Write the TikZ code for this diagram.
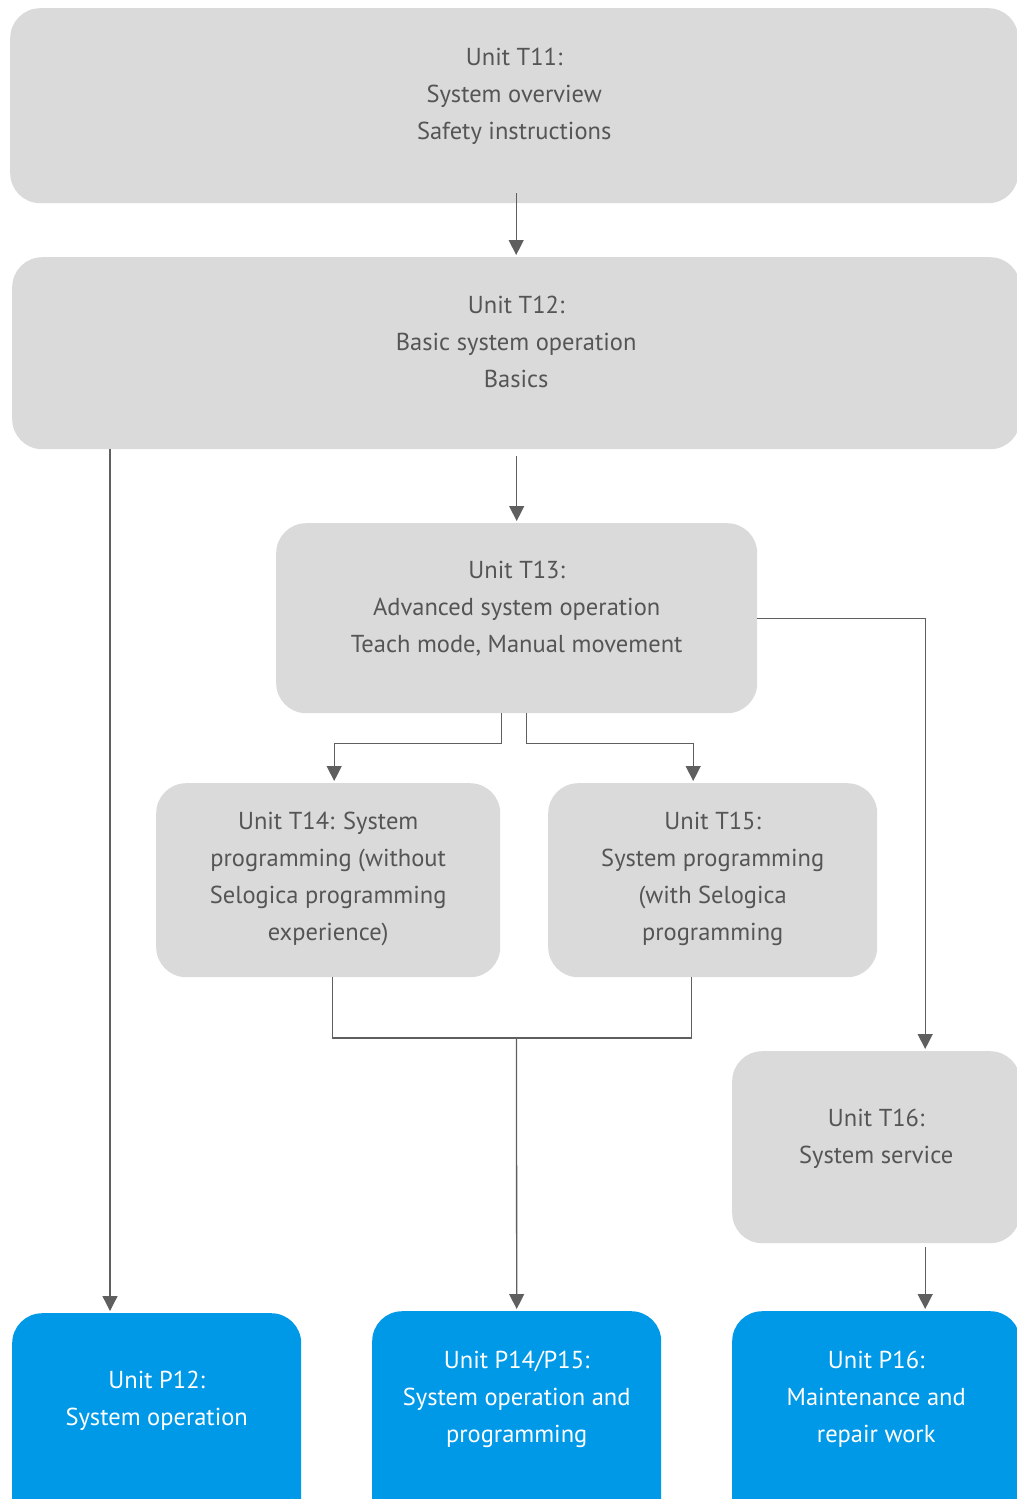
\documentclass[tikz,border=0pt]{standalone}
\usepackage{fontspec}
\setmainfont{PT Sans}
\usetikzlibrary{arrows.meta,positioning}
\definecolor{boxgray}{RGB}{218,218,218}
\definecolor{textgray}{RGB}{85,85,85}
\definecolor{unitblue}{RGB}{0,153,232}
\definecolor{linegray}{RGB}{95,95,95}

\tikzset{
  unitbox/.style={rectangle, rounded corners=30pt, fill=boxgray, draw=none, inner sep=0pt, anchor=north west},
  pracbox/.style={unitbox, fill=unitblue},
  unittext/.style={anchor=base, align=center, text=textgray, font=\fontsize{24.5}{37}\selectfont},
  practext/.style={unittext, text=white},
  wire/.style={draw=linegray, line width=1.3pt},
  flow/.style={wire, -{Triangle[width=15pt,length=15pt]}, shorten >=2pt},
}

\begin{document}
\begin{tikzpicture}[x=1pt, y=-1pt]
        \path[use as bounding box, clip] (0,0) rectangle (1017,1499);

        % Theory units
        \node[unitbox, minimum width=1008pt, minimum height=195pt] (t11) at (10,8) {};
        \node[unitbox, minimum width=1008pt, minimum height=192pt] (t12) at (12,257) {};
        \node[unitbox, minimum width=481pt, minimum height=190pt] (t13) at (276,523) {};
        \node[unitbox, minimum width=344pt, minimum height=194pt] (t14) at (156,783) {};
        \node[unitbox, minimum width=329pt, minimum height=194pt] (t15) at (548,783) {};
        \node[unitbox, minimum width=288pt, minimum height=192pt] (t16) at (732,1051) {};

        % Practice units
        \node[pracbox, minimum width=289pt, minimum height=230pt] (p12) at (12,1313) {};
        \node[pracbox, minimum width=289pt, minimum height=230pt] (p1415) at (372,1311) {};
        \node[pracbox, minimum width=288pt, minimum height=230pt] (p16) at (732,1311) {};

        % Texts (base = last line)
        \node[unittext] (t11txt) at ([yshift=-131pt]t11.north) {Unit T11:\\System overview\\Safety instructions};
        \node[unittext] (t12txt) at ([yshift=-130pt]t12.north) {Unit T12:\\Basic system operation\\Basics};
        \node[unittext] (t13txt) at ([yshift=-129pt]t13.north) {Unit T13:\\Advanced system operation\\Teach mode, Manual movement};
        \node[unittext] (t14txt) at ([yshift=-157pt]t14.north) {Unit T14: System\\programming (without\\Selogica programming\\experience)};
        \node[unittext] (t15txt) at ([yshift=-157pt]t15.north) {Unit T15:\\System programming\\(with Selogica\\programming};
        \node[unittext] (t16txt) at ([yshift=-112pt]t16.north) {Unit T16:\\System service};
        \node[practext] (p12txt) at ([yshift=-112pt]p12.north) {Unit P12:\\System operation};
        \node[practext] (p1415txt) at ([yshift=-131pt]p1415.north) {Unit P14/P15:\\System operation and\\programming};
        \node[practext] (p16txt) at ([yshift=-131pt]p16.north) {Unit P16:\\Maintenance and\\repair work};

        % Connectors
        \coordinate (t12left) at ([xshift=98pt]t12.south west);
        \coordinate (t13l) at ([xshift=-15.5pt]t13.south);
        \coordinate (t13r) at ([xshift=9.5pt]t13.south);
        \coordinate (t16in) at ([xshift=49pt]t16.north);
        \coordinate (t14out) at ([xshift=4pt]t14.south);
        \coordinate (t15out) at ([xshift=-21.5pt]t15.south);
        \coordinate (merge) at (516.5,1038);

        \draw[flow, shorten <=-10pt] (t12.north |- t11.south) -- (t12.north);
        \draw[flow, shorten <=7pt] (t13.north |- t12.south) -- (t13.north);
        \draw[flow] (t12left) -- (t12left |- p12.north);
        \draw[flow] (t13l) -- ++(0,30) -| ([xshift=6pt]t14.north);
        \draw[flow] (t13r) -- ++(0,30) -| ([xshift=-19.5pt]t15.north);
        \draw[flow] (t13.east) -| (t16in);
        \draw[flow, shorten <=4pt] (t16in |- t16.south) -- (t16in |- p16.north);
        \draw[wire] (t14out) |- (merge) -| (t15out);
        \draw[flow] (merge) -- (p1415.north);
    \end{tikzpicture}
\end{document}
